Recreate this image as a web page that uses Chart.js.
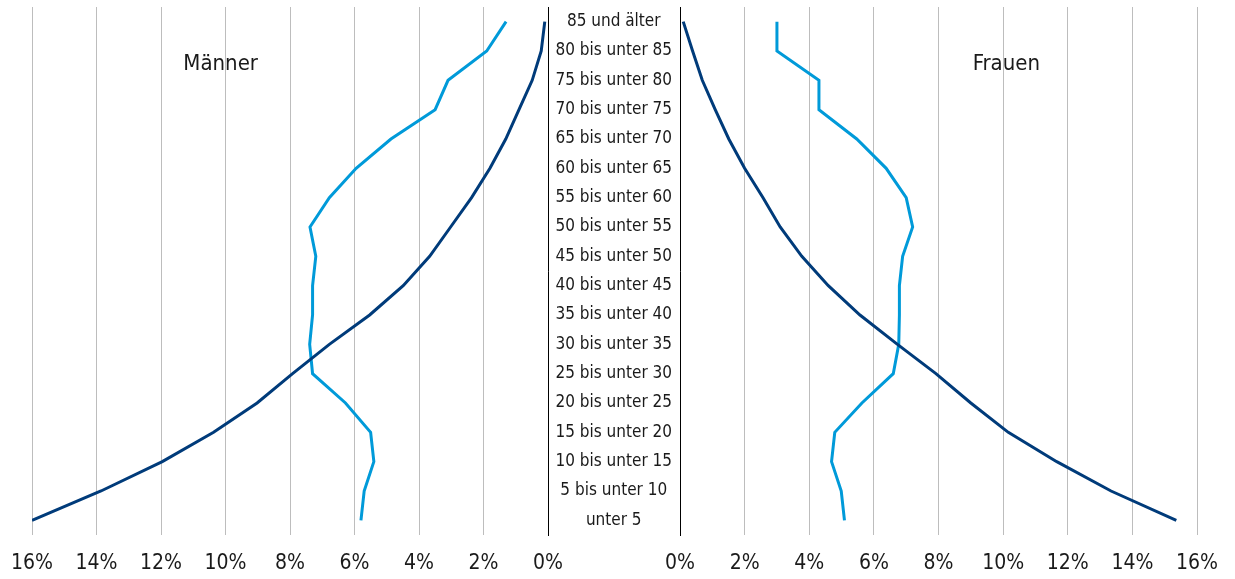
<!DOCTYPE html>
<html>
<head>
<meta charset="utf-8">
<script src="https://cdn.jsdelivr.net/npm/chart.js@4/dist/chart.umd.min.js"></script>
<style>
  html, body { margin: 0; padding: 0; background: #fff; }
  #wrap { position: relative; width: 1235px; height: 579px; }
  #wrap canvas { position: absolute; left: 0; top: 0; }
</style>
</head>
<body>
<div id="wrap">
  <canvas id="maenner" width="1235" height="579"></canvas>
  <canvas id="frauen" width="1235" height="579"></canvas>
</div>
<script>
// Altersgruppen, von oben nach unten
var ageGroups = [
  "85 und älter", "80 bis unter 85", "75 bis unter 80", "70 bis unter 75",
  "65 bis unter 70", "60 bis unter 65", "55 bis unter 60", "50 bis unter 55",
  "45 bis unter 50", "40 bis unter 45", "35 bis unter 40", "30 bis unter 35",
  "25 bis unter 30", "20 bis unter 25", "15 bis unter 20", "10 bis unter 15",
  "5 bis unter 10", "unter 5"
];

// Männer (Anteile in %)
var maennerDark = [0.10, 0.21, 0.49, 0.90, 1.31, 1.80, 2.37, 3.02, 3.67, 4.49,
  5.53, 6.78, 7.92, 9.02, 10.37, 11.96, 13.86, 16.0];
var maennerLight = [1.30, 1.90, 3.10, 3.50, 4.87, 5.95, 6.78, 7.38, 7.20, 7.30,
  7.30, 7.39, 7.30, 6.28, 5.50, 5.40, 5.70, 5.80];

// Frauen (Anteile in %)
var frauenDark = [0.10, 0.39, 0.69, 1.09, 1.51, 2.00, 2.57, 3.10, 3.77, 4.59,
  5.57, 6.73, 7.92, 9.00, 10.16, 11.66, 13.34, 15.36];
var frauenLight = [3.00, 3.00, 4.30, 4.30, 5.47, 6.38, 7.00, 7.20, 6.89, 6.79,
  6.79, 6.77, 6.60, 5.63, 4.79, 4.69, 4.99, 5.09];

var xTicks = [0, 2, 4, 6, 8, 10, 12, 14, 16];

var darkBlue = "#003b7a";
var lightBlue = "#009ad9";
var fontFamily = "'Liberation Sans Narrow', 'DejaVu Sans Condensed', sans-serif";
var textColor = "#1a1a1a";

Chart.defaults.font.family = fontFamily;
Chart.defaults.color = textColor;

// Paneltitel (Männer / Frauen) an einer Wertposition der x-Achse
var panelTitle = {
  id: "panelTitle",
  afterDraw: function (chart, args, opts) {
    var ctx = chart.ctx;
    var x = chart.scales.x.getPixelForValue(opts.value);
    ctx.save();
    ctx.font = "22px " + fontFamily;
    ctx.fillStyle = textColor;
    ctx.textAlign = "center";
    ctx.textBaseline = "middle";
    ctx.fillText(opts.text, x, 64);
    ctx.restore();
  }
};

function makeDatasets(dark, light) {
  return [
    {
      data: dark,
      borderColor: darkBlue,
      borderWidth: 3,
      pointRadius: 0,
      tension: 0,
      fill: false
    },
    {
      data: light,
      borderColor: lightBlue,
      borderWidth: 3,
      pointRadius: 0,
      tension: 0,
      fill: false
    }
  ];
}

function xScale(reverse) {
  return {
    type: "linear",
    min: 0,
    max: 16,
    reverse: reverse,
    afterBuildTicks: function (scale) {
      scale.ticks = xTicks.map(function (v) { return { value: v }; });
    },
    afterFit: function (scale) { scale.height = 44; },
    ticks: {
      font: { size: 21 },
      padding: 16,
      maxRotation: 0,
      callback: function (v) { return v + "%"; }
    },
    grid: { color: "#bdbdbd", lineWidth: 1, drawTicks: false },
    border: { display: false }
  };
}

var commonOptions = {
  responsive: false,
  animation: false,
  indexAxis: "y"
};

// linkes Panel: Männer
var ctxM = document.getElementById("maenner").getContext("2d");
var chartM = new Chart(ctxM, {
  type: "line",
  data: { labels: ageGroups, datasets: makeDatasets(maennerDark, maennerLight) },
  options: Object.assign({}, commonOptions, {
    layout: { padding: { left: 32, right: 687, top: 7, bottom: 0 } },
    plugins: {
      legend: { display: false },
      tooltip: { enabled: false },
      panelTitle: { text: "Männer", value: 10.15 }
    },
    scales: {
      x: xScale(true),
      y: {
        type: "category",
        position: "right",
        offset: true,
        ticks: { display: false },
        grid: { display: false, drawTicks: false },
        border: { display: true, color: "#000", width: 1 },
        afterFit: function (scale) { scale.width = 0; }
      }
    }
  }),
  plugins: [panelTitle]
});

// rechtes Panel: Frauen, mit den Altersgruppen in der Mitte
var ctxF = document.getElementById("frauen").getContext("2d");
var chartF = new Chart(ctxF, {
  type: "line",
  data: { labels: ageGroups, datasets: makeDatasets(frauenDark, frauenLight) },
  options: Object.assign({}, commonOptions, {
    layout: { padding: { left: 548, right: 38, top: 7, bottom: 0 } },
    plugins: {
      legend: { display: false },
      tooltip: { enabled: false },
      panelTitle: { text: "Frauen", value: 10.1 }
    },
    scales: {
      x: xScale(false),
      y: {
        type: "category",
        position: "left",
        offset: true,
        ticks: {
          font: { size: 17 },
          crossAlign: "center",
          padding: 8
        },
        grid: { display: false, drawTicks: false },
        border: { display: true, color: "#000", width: 1 },
        afterFit: function (scale) {
          scale.width = 132;
          scale.paddingTop = 0;
          scale.paddingBottom = 0;
        }
      }
    }
  }),
  plugins: [panelTitle]
});
</script>
</body>
</html>
